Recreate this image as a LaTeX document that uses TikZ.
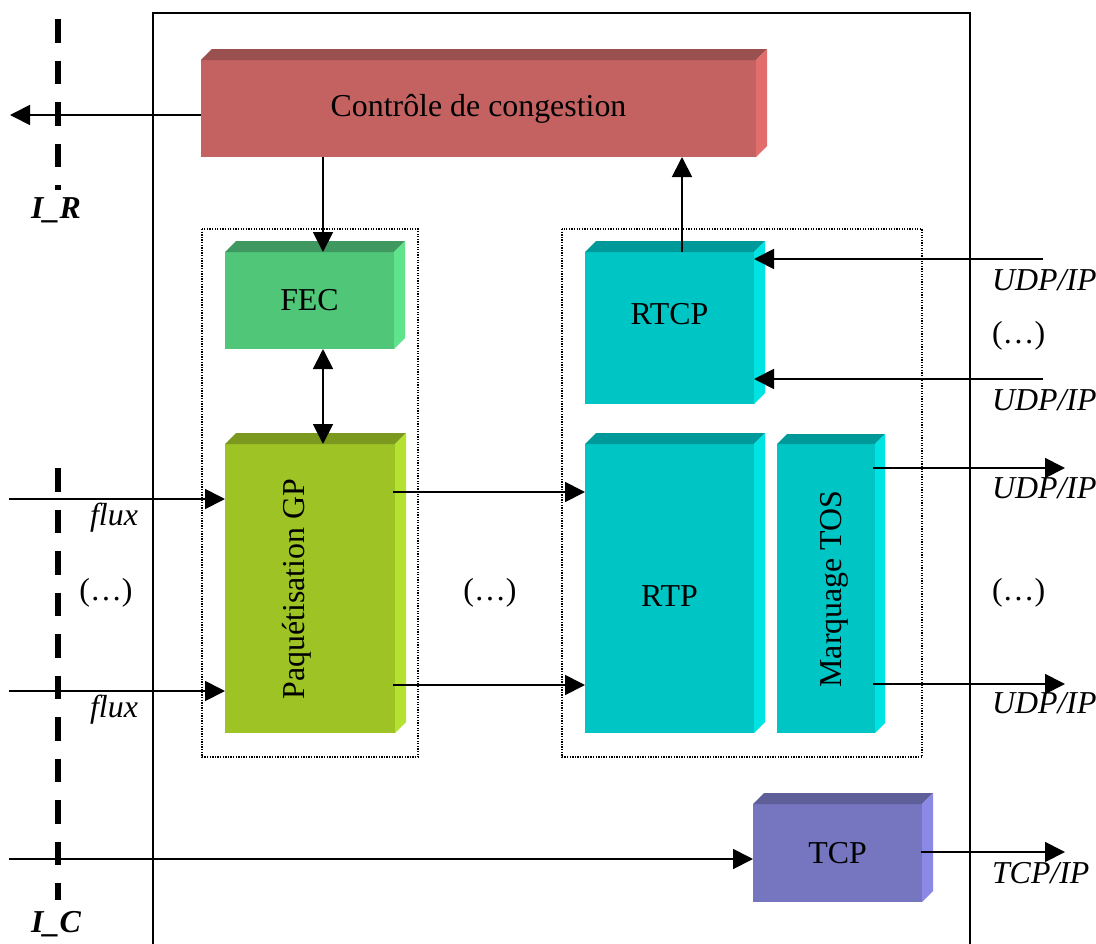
\documentclass[tikz,border=0pt]{standalone}
\usepackage{fontspec}
\setmainfont{Liberation Serif}
\usetikzlibrary{arrows.meta}

% face colours: front / top / side
\definecolor{redF}{HTML}{C46262}\definecolor{redT}{HTML}{9B5050}\definecolor{redS}{HTML}{E26D6D}
\definecolor{grnF}{HTML}{50C679}\definecolor{grnT}{HTML}{3F9860}\definecolor{grnS}{HTML}{5FE38C}
\definecolor{limF}{HTML}{9DC325}\definecolor{limT}{HTML}{7A991E}\definecolor{limS}{HTML}{B5E230}
\definecolor{cynF}{HTML}{00C5C5}\definecolor{cynT}{HTML}{009999}\definecolor{cynS}{HTML}{00E3E3}
\definecolor{vioF}{HTML}{7575C0}\definecolor{vioT}{HTML}{5E5E99}\definecolor{vioS}{HTML}{8A8AE6}

% top and right faces of a block whose front face is the node #1
\newcommand\blockfaces[4]{%
  \fill[#3] (#1.north west) -- ([shift={(#2,-#2)}]#1.north west)
        -- ([shift={(#2,-#2)}]#1.north east) -- (#1.north east) -- cycle;
  \fill[#4] (#1.north east) -- ([shift={(#2,-#2)}]#1.north east)
        -- ([shift={(#2,-#2)}]#1.south east) -- (#1.south east) -- cycle;
}

\tikzset{
  txt/.style={inner sep=0pt, outer sep=0pt, font=\fontsize{32}{36}\selectfont},
  front/.style={txt, fill=#1},
  arr/.style={line width=1.8bp, -{Triangle[length=20bp,width=20bp]}},
  arrboth/.style={line width=1.8bp, {Triangle[length=20bp,width=20bp]}-{Triangle[length=20bp,width=20bp]}},
  groupbox/.style={line width=1.3bp, dash pattern=on 1.3bp off 1.3bp},
  iface/.style={line width=6bp, dash pattern=on 23.5bp off 18bp},
  lab/.style={txt, anchor=base west, font=\fontsize{32}{36}\selectfont\itshape},
}

\begin{document}
\begin{tikzpicture}[x=1bp, y=-1bp]
\useasboundingbox (0,0) rectangle (1096,944);

% enclosing frame (open at the bottom)
\draw[line width=2bp] (153,944) -- (153,13) -- (970,13) -- (970,944);

% interface lines
\draw[iface] (58,19) -- (58,190);
\draw[iface] (58,468) -- (58,900);
\node[txt, anchor=base, font=\fontsize{32}{36}\selectfont\bfseries\itshape] (lir) at (56,218) {I\_R};
\node[txt, anchor=base, font=\fontsize{32}{36}\selectfont\bfseries\itshape] (lic) at (56,932) {I\_C};

% dotted groups
\draw[groupbox] (202,229) rectangle (418,757);
\draw[groupbox] (562,229) rectangle (922,757);

% blocks
\node[front=redF, minimum width=555bp, minimum height=97bp] (cc) at (478.5,108.5) {Contrôle de congestion};
\blockfaces{cc}{11}{redT}{redS}

\node[front=grnF, minimum width=169bp, minimum height=97bp] (fec) at (309.5,300.5) {FEC};
\blockfaces{fec}{11}{grnT}{grnS}

\node[front=limF, minimum width=170bp, minimum height=289bp] (paq) at (310,588.5) {};
\blockfaces{paq}{11}{limT}{limS}
\node[txt, rotate=90] (paqt) at (297,589) {Paquétisation GP};

\node[front=cynF, minimum width=169bp, minimum height=152bp] (rtcp) at (669.5,328) {};
\blockfaces{rtcp}{11}{cynT}{cynS}
\node[txt] (rtcpt) at (669.5,314.5) {RTCP};

\node[front=cynF, minimum width=169bp, minimum height=289bp] (rtp) at (669.5,588.5) {};
\blockfaces{rtp}{11}{cynT}{cynS}
\node[txt] (rtpt) at (669.5,596) {RTP};

\node[front=cynF, minimum width=98bp, minimum height=289bp] (tos) at (826,588.5) {};
\blockfaces{tos}{10}{cynT}{cynS}
\node[txt, rotate=90] (tost) at (834,589) {Marquage TOS};

\node[front=vioF, minimum width=169bp, minimum height=98bp] (tcp) at (837.5,853) {TCP};
\blockfaces{tcp}{11}{vioT}{vioS}

% free ends and guide positions of the connectors
\coordinate (ir) at (10,115);
\coordinate (vx) at (323,0);
\coordinate (vy) at (682,0);
\coordinate (u1) at (1043,259);
\coordinate (u2) at (1043,379);
\coordinate (f1) at (9,499);
\coordinate (f2) at (9,691);
\coordinate (m1) at (0,492);
\coordinate (m2) at (0,685);
\coordinate (o1) at (1065,468);
\coordinate (o2) at (1065,684);
\coordinate (t0) at (9,859);
\coordinate (t1) at (1065,852);

% connectors
\draw[arr] (cc.west |- ir) -- (ir);
\draw[arr] (cc.south -| vx) -- (fec.north -| vx);
\draw[arrboth] (fec.south -| vx) -- (paq.north -| vx);
\draw[arr] (rtcp.north -| vy) -- (cc.south -| vy);
\draw[arr] (u1) -- (rtcp.east |- u1);
\draw[arr] (u2) -- (rtcp.east |- u2);
\draw[arr] (f1) -- (paq.west |- f1);
\draw[arr] (f2) -- (paq.west |- f2);
\draw[arr] ([xshift=-2bp]paq.east |- m1) -- (rtp.west |- m1);
\draw[arr] ([xshift=-2bp]paq.east |- m2) -- (rtp.west |- m2);
\draw[arr] ([xshift=-2bp]tos.east |- o1) -- (o1);
\draw[arr] ([xshift=-2bp]tos.east |- o2) -- (o2);
\draw[arr] (t0) -- (tcp.west |- t0);
\draw[arr] ([xshift=-1bp]tcp.east |- t1) -- (t1);

% labels
\node[lab, anchor=base] (fl1) at (114,525) {flux};
\node[lab, anchor=base] (fl2) at (114,717) {flux};
\node[txt, anchor=base] (e1) at (106,600) {(…)};
\node[txt, anchor=base] (e2) at (490,600) {(…)};
\node[txt, anchor=base west] (e3) at (992,600) {(…)};
\node[txt, anchor=base west] (e4) at (992,343) {(…)};
\node[lab] (ud1) at (992,290) {UDP/IP};
\node[lab] (ud2) at (992,410) {UDP/IP};
\node[lab] (ud3) at (992,498) {UDP/IP};
\node[lab] (ud4) at (992,713) {UDP/IP};
\node[lab] (tcpip) at (992,883) {TCP/IP};
\end{tikzpicture}
\end{document}
